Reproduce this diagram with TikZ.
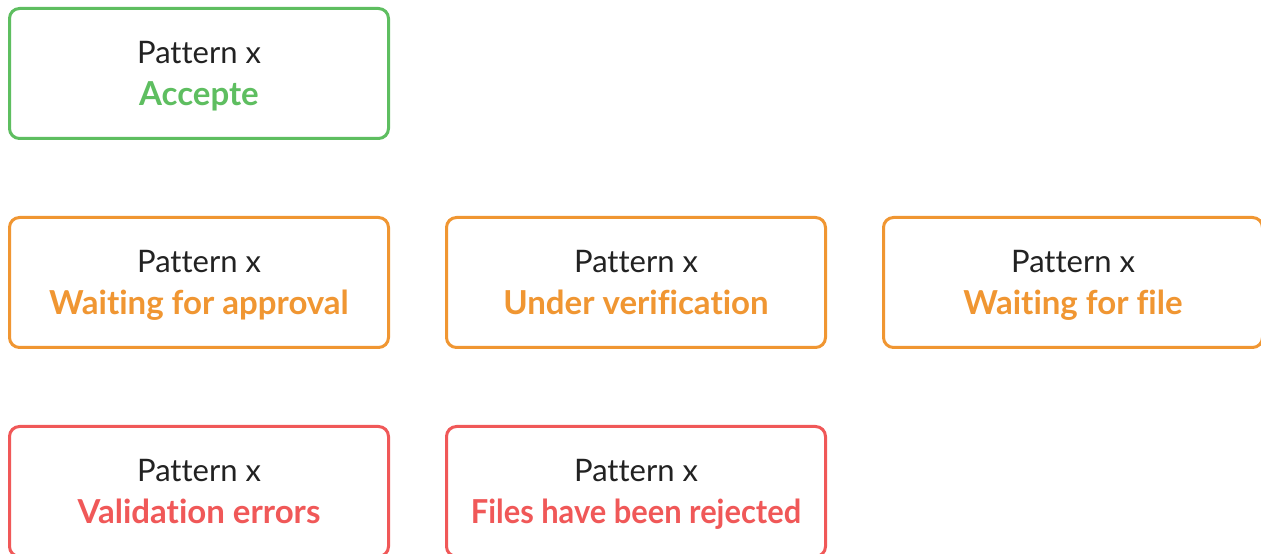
\documentclass[tikz,border=0pt]{standalone}
\usepackage{fontspec}
\usepackage{graphicx}
\setmainfont{Lato}[Ligatures=NoCommon]
\definecolor{okgreen}{RGB}{94,190,96}
\definecolor{waitorange}{RGB}{240,150,50}
\definecolor{errred}{RGB}{240,88,88}
\definecolor{txtdark}{RGB}{34,34,34}
\tikzset{
  statebox/.style={draw=#1, line width=3pt, rounded corners=10pt, fill=white,
    minimum width=379pt, minimum height=130pt, inner sep=0pt},
  titletext/.style={anchor=base, inner sep=0pt, text=txtdark, font=\fontsize{31}{31}\selectfont},
  statetext/.style={anchor=base, inner sep=0pt, text=#1, font=\fontsize{33}{33}\selectfont\bfseries},
}
\newcommand{\statenode}[4]{%
  \node[statebox=#3] (#1) at (#2) {};
  \node[titletext] (#1-title) at ([yshift=10pt]#1.center) {Pattern x};
  \node[statetext=#3] (#1-state) at ([yshift=-32.5pt]#1.center) {#4};
}
\begin{document}
\begin{tikzpicture}[x=1pt,y=1pt]
\useasboundingbox (0,0) rectangle (1261,554);
\clip (0,0) rectangle (1261,554);
\statenode{accepte}{199,480.5}{okgreen}{Accepte}
\statenode{approval}{199,271.5}{waitorange}{Waiting for approval}
\statenode{verif}{636,271.5}{waitorange}{Under verification}
\statenode{file}{1073,271.5}{waitorange}{Waiting for file}
\statenode{valid}{199,62.5}{errred}{Validation errors}
\statenode{rejected}{636,62.5}{errred}{\scalebox{0.935}[1]{Files have been rejected}}
\end{tikzpicture}
\end{document}
